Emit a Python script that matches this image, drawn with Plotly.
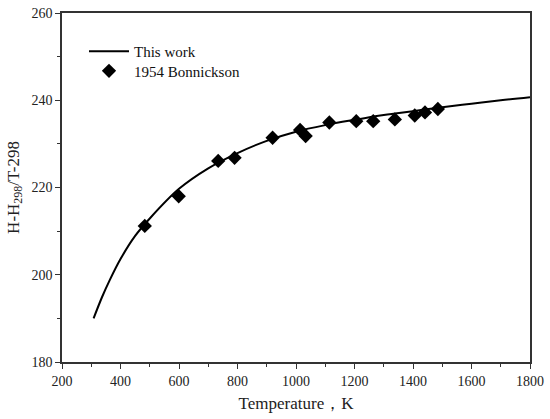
import plotly.graph_objects as go

# curve
curve_t = [308, 337, 362, 400, 450, 500, 600, 700, 800, 900, 1000,
           1100, 1200, 1300, 1400, 1500, 1600, 1700, 1800]
curve_h = [190.0, 194.9, 198.6, 203.6, 208.9, 212.9, 219.7, 224.4, 227.9,
           230.7, 232.8, 234.3, 235.5, 236.6, 237.5, 238.4, 239.2, 240.0,
           240.7]

# 1954 Bonnickson points
exp_t = [483, 599, 734, 790, 920, 1014, 1033, 1114, 1206, 1264, 1338, 1406,
         1441, 1485]
exp_h = [211.2, 218.0, 226.1, 226.8, 231.4, 233.2, 231.8, 234.9, 235.2,
         235.2, 235.6, 236.5, 237.2, 238.0]

fig = go.Figure()
fig.add_trace(go.Scatter(x=curve_t, y=curve_h, mode="lines", name="This work",
                         legend="legend", showlegend=True,
                         line=dict(color="black", width=2, shape="spline")))
fig.add_trace(go.Scatter(x=exp_t, y=exp_h, mode="markers", name="1954 Bonnickson",
                         legend="legend2", showlegend=True,
                         marker=dict(symbol="diamond", size=11, color="black")))

axis_style = dict(showline=True, linecolor="#333", linewidth=1.5, mirror=True,
                  ticks="outside", ticklen=5, tickcolor="#333", showgrid=False,
                  zeroline=False, automargin=False, ticklabeloverflow="allow",
                  tickfont=dict(size=14, color="#222"))
fig.update_xaxes(range=[200, 1800], dtick=200, minor=dict(ticks="outside", dtick=100, ticklen=3, tickcolor="#333"),
                 title=dict(text="Temperature，K", font=dict(size=17, color="#222"), standoff=10),
                 **axis_style)
fig.update_yaxes(range=[180, 260], dtick=20, minor=dict(ticks="outside", dtick=10, ticklen=3, tickcolor="#333"),
                 title=dict(text="H-H<sub>298</sub>/T-298", font=dict(size=17, color="#222"), standoff=8),
                 **axis_style)

leg = dict(xanchor="left", yanchor="top", bgcolor="rgba(0,0,0,0)",
           font=dict(size=15, color="#111"), itemwidth=40)
fig.update_layout(width=550, height=419, plot_bgcolor="white", paper_bgcolor="white",
                  margin=dict(l=62, r=20, t=13, b=57), showlegend=True,
                  font=dict(family="Liberation Serif, Times New Roman, serif"),
                  legend=dict(x=0.047, y=0.937, **leg),
                  legend2=dict(x=0.047, y=0.937 - 0.056, **leg))
# drop the default 8px page margin so the figure fills the window
fig.write_html("out.html", config={"displayModeBar": False},
               post_script="document.body.style.margin='0';")
